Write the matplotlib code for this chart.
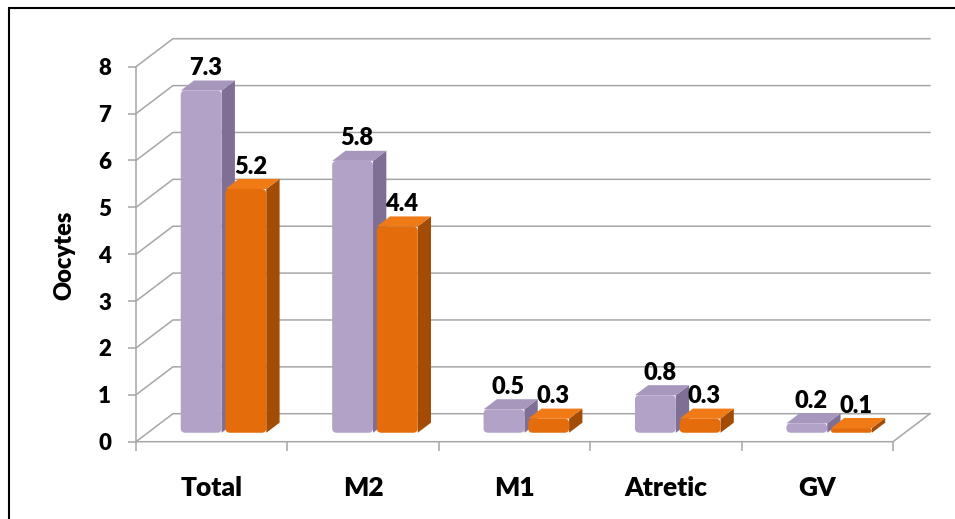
import matplotlib.pyplot as plt
from matplotlib.patches import Polygon, Rectangle, FancyBboxPatch

categories = ["Total", "M2", "M1", "Atretic", "GV"]
series_a = [7.3, 5.8, 0.5, 0.8, 0.2]
series_b = [5.2, 4.4, 0.3, 0.3, 0.1]
yticks = [0, 1, 2, 3, 4, 5, 6, 7, 8]

plt.rcParams['font.family'] = ['Lato', 'DejaVu Sans']
plt.rcParams['font.weight'] = 'heavy'

fig = plt.figure(figsize=(9.55, 5.19), dpi=100)
ax = fig.add_axes([136 / 955, 1 - 441.7 / 519, 757 / 955, 375 / 519])
ax.set_xlim(0, len(categories))
ax.set_ylim(0, 8)
for s in ax.spines.values():
    s.set_visible(False)

# depth of the box (data units) and where the bars sit inside it
DX, DY = 0.244, 0.597
F0, F1 = 0.32, 0.68
W, GAP = 0.27, 0.025
ASPECT = 3.23  # y units per x unit for the same pixel length
grid_c = '#a6a6a6'
n = len(categories)

# back wall gridlines with the diagonal run back from the front axis
for k in yticks:
    ax.plot([0, DX, n + DX], [k, k + DY, k + DY], color=grid_c, lw=1.1,
            clip_on=False, zorder=1)
ax.plot([0, n, n + DX], [0, 0, DY], color=grid_c, lw=1.1, clip_on=False, zorder=1)
ax.plot([0, 0], [0, 8], color=grid_c, lw=1.1, clip_on=False, zorder=1)

ax.set_yticks(yticks)
ax.set_yticklabels([str(t) for t in yticks])
ax.tick_params(axis='y', length=6, color=grid_c, width=1.1, pad=12, labelsize=16)
ax.set_xticks(range(n + 1))
ax.set_xticklabels([])
ax.set_xticks([i + 0.5 for i in range(n)], minor=True)
ax.set_xticklabels(categories, minor=True)
ax.tick_params(axis='x', which='major', length=6.5, color=grid_c, width=1.1)
ax.tick_params(axis='x', which='minor', length=0, pad=25, labelsize=19)


def bar3d(x0, v, face, side, top, z):
    bx = x0 + F0 * DX
    by = F0 * DY
    ddx = (F1 - F0) * DX
    ddy = (F1 - F0) * DY
    ax.add_patch(Polygon([[bx + W, by], [bx + W, by + v], [bx + W + ddx, by + v + ddy],
                          [bx + W + ddx, by + ddy]], closed=True, color=side,
                         zorder=z - 0.1, clip_on=False, lw=0))
    ax.add_patch(Polygon([[bx, by + v], [bx + W, by + v], [bx + W + ddx, by + v + ddy],
                          [bx + ddx, by + v + ddy]], closed=True, color=top,
                         zorder=z - 0.1, clip_on=False, lw=0))
    r = min(0.03, v / ASPECT / 2)
    ax.add_patch(FancyBboxPatch((bx, by), W, v,
                                boxstyle=f"round,pad=0,rounding_size={r}",
                                mutation_aspect=ASPECT, color=face, lw=0,
                                zorder=z, clip_on=False))
    ax.annotate(f"{v}", (bx + W / 2 + ddx / 3, by + v + ddy), xytext=(0, 1),
                textcoords='offset points', ha='center', va='bottom',
                fontsize=17, zorder=10, annotation_clip=False)


for i in range(n):
    bar3d(i + 0.5 - W - GAP / 2, series_a[i], '#b3a2c7', '#7f6f95', '#a797bc', 3)
    bar3d(i + 0.5 + GAP / 2, series_b[i], '#e46c0a', '#a24c05', '#ef7a16', 4)

fig.text(64 / 955, 1 - 255 / 519, "Oocytes", rotation=90, ha='center', va='center',
         fontsize=17)

# chart frame
fig.patches.append(Rectangle((9 / 955, -0.1), 1.2, 1 - 8 / 519 + 0.1,
                             transform=fig.transFigure, fill=False,
                             edgecolor='black', lw=1.5))

fig.savefig("out.png", dpi=100)
